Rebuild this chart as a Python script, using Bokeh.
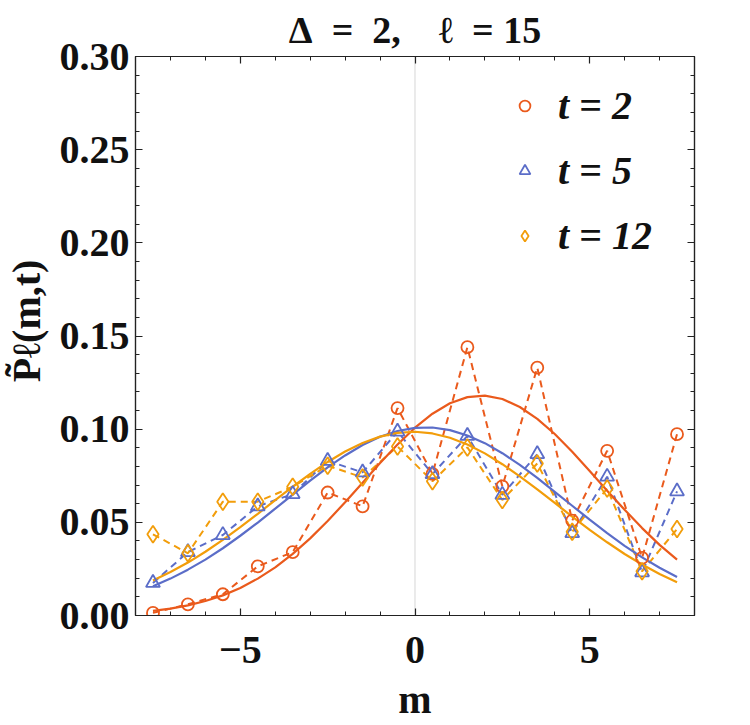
from math import pi
from bokeh.plotting import figure
from bokeh.models import Range1d, FixedTicker, LinearAxis, Span, Legend, LegendItem
from bokeh.embed import file_html
from bokeh.resources import INLINE

# ---- data ----
m = [-7.5, -6.5, -5.5, -4.5, -3.5, -2.5, -1.5, -0.5,
     0.5, 1.5, 2.5, 3.5, 4.5, 5.5, 6.5, 7.5]
p_t2 = [0.0014, 0.0060, 0.0114, 0.0264, 0.0340, 0.0660, 0.0586, 0.1113,
        0.0760, 0.1440, 0.0693, 0.1330, 0.0509, 0.0884, 0.0309, 0.0973]
p_t5 = [0.0175, 0.0340, 0.0432, 0.0586, 0.0652, 0.0830, 0.0768, 0.0987,
        0.0759, 0.0964, 0.0648, 0.0866, 0.0442, 0.0745, 0.0232, 0.0666]
p_t12 = [0.0436, 0.0334, 0.0611, 0.0611, 0.0691, 0.0804, 0.0741, 0.0907,
         0.0720, 0.0902, 0.0620, 0.0816, 0.0450, 0.0682, 0.0237, 0.0464]

m_fit = [-7.5, -7.0, -6.5, -6.0, -5.5, -5.0, -4.5, -4.0, -3.5, -3.0, -2.5,
         -2.0, -1.5, -1.0, -0.5, 0.0, 0.5, 1.0, 1.5, 2.0, 2.5, 3.0, 3.5,
         4.0, 4.5, 5.0, 5.5, 6.0, 6.5, 7.0, 7.5]
fit_t2 = [0.0025, 0.0037, 0.0054, 0.0078, 0.0108, 0.0148, 0.0198, 0.0258,
          0.0331, 0.0414, 0.0507, 0.0608, 0.0713, 0.0818, 0.0918, 0.1008,
          0.1083, 0.1139, 0.1172, 0.1180, 0.1162, 0.1119, 0.1055, 0.0974,
          0.0879, 0.0776, 0.0670, 0.0567, 0.0469, 0.0379, 0.0300]
fit_t5 = [0.0157, 0.0198, 0.0246, 0.0300, 0.0361, 0.0428, 0.0499, 0.0574,
          0.0649, 0.0724, 0.0795, 0.0859, 0.0915, 0.0959, 0.0990, 0.1007,
          0.1009, 0.0995, 0.0966, 0.0925, 0.0871, 0.0808, 0.0739, 0.0664,
          0.0589, 0.0514, 0.0442, 0.0374, 0.0312, 0.0256, 0.0207]
fit_t12 = [0.0188, 0.0233, 0.0284, 0.0342, 0.0406, 0.0474, 0.0546, 0.0619,
           0.0691, 0.0760, 0.0824, 0.0880, 0.0926, 0.0960, 0.0980, 0.0986,
           0.0977, 0.0954, 0.0918, 0.0870, 0.0812, 0.0747, 0.0677, 0.0604,
           0.0531, 0.0460, 0.0393, 0.0330, 0.0274, 0.0223, 0.0179]

labels = ["t = 2", "t = 5", "t = 12"]
x_major = [-5, 0, 5]
x_minor = [-8, -7, -6, -5, -4, -3, -2, -1, 0, 1, 2, 3, 4, 5, 6, 7, 8]
y_major = [0.0, 0.05, 0.10, 0.15, 0.20, 0.25, 0.30]
y_minor = [i / 100 for i in range(0, 31)]
x_tick_labels = {-5: "\u22125", 0: "0", 5: "5"}
y_tick_labels = {0.0: "0.00", 0.05: "0.05", 0.10: "0.10", 0.15: "0.15",
                 0.20: "0.20", 0.25: "0.25", 0.30: "0.30"}

colors = ["#EA5A1C", "#5B6DC8", "#F29D0A"]
markers = ["circle", "triangle", "diamond"]
msizes = [12, 14, 17]

FONT = "Liberation Serif"

p = figure(width=750, height=725, output_backend="svg", toolbar_location=None,
           x_range=Range1d(-8, 8), y_range=Range1d(0, 0.30),
           min_border_left=134, min_border_right=56, min_border_top=55,
           min_border_bottom=110, x_axis_location=None, y_axis_location=None)
p.grid.visible = False
p.outline_line_color = "#222222"
p.outline_line_width = 1.2
p.background_fill_color = "white"

p.title.text = ("\u0394\u00a0\u00a0=\u00a0\u00a02,\u00a0\u00a0\u00a0\u00a0"
                "\u2113\u00a0\u00a0=\u00a015")
p.title.align = "center"
p.title.text_font = FONT
p.title.text_font_size = "38px"
p.title.text_font_style = "bold"
p.title.text_color = "#111111"
p.title.standoff = 12


def make_axis(ticks, minor, overrides, show_labels):
    ax = LinearAxis()
    ax.ticker = FixedTicker(ticks=ticks, minor_ticks=minor)
    ax.axis_line_color = "#222222"
    ax.axis_line_width = 1.2
    ax.major_tick_in = 7
    ax.major_tick_out = 0
    ax.minor_tick_in = 4
    ax.minor_tick_out = 0
    ax.major_tick_line_color = "#222222"
    ax.minor_tick_line_color = "#222222"
    ax.major_tick_line_width = 1.2
    ax.minor_tick_line_width = 1
    if show_labels:
        ax.major_label_overrides = overrides
        ax.major_label_text_font = FONT
        ax.major_label_text_font_style = "bold"
        ax.major_label_text_font_size = "40px"
        ax.major_label_text_color = "#111111"
    else:
        ax.major_label_text_font_size = "0px"
        ax.major_label_text_color = None
        ax.major_label_standoff = 0
    return ax


xb = make_axis(x_major, x_minor, x_tick_labels, True)
xb.major_label_standoff = 21
xb.axis_label = "m"
xb.axis_label_text_font = FONT
xb.axis_label_text_font_style = "bold"
xb.axis_label_text_font_size = "40px"
xb.axis_label_text_color = "#111111"
xb.axis_label_standoff = 11
p.add_layout(xb, "below")
p.add_layout(make_axis(x_major, x_minor, {}, False), "above")

yl = make_axis(y_major, y_minor, y_tick_labels, True)
yl.major_label_standoff = 6
yl.axis_label = "\u00a0\u00a0\u00a0P\u0303\u2113(m,t)"
yl.axis_label_text_font = FONT
yl.axis_label_text_font_style = "bold"
yl.axis_label_text_font_size = "40px"
yl.axis_label_text_color = "#111111"
yl.axis_label_standoff = 8
p.add_layout(yl, "left")
p.add_layout(make_axis(y_major, y_minor, {}, False), "right")

p.add_layout(Span(location=0, dimension="height", line_color="#DDDDDD",
                  line_width=1.2, level="underlay"))

series = [p_t2, p_t5, p_t12]
fits = [fit_t2, fit_t5, fit_t12]
for vals, c in zip(series, colors):
    p.line(m, vals, line_color=c, line_width=2.0, line_dash="7 5")
for fv, c in zip(fits, colors):
    p.line(m_fit, fv, line_color=c, line_width=2.2)

items = []
for vals, c, mk, sz, lab in zip(series, colors, markers, msizes, labels):
    r = p.scatter(m, vals, marker=mk, size=sz, line_color=c,
                  fill_color=None, line_width=1.8)
    items.append(LegendItem(label=lab, renderers=[r]))

legend = Legend(items=items, location=(376, 347))
legend.label_text_font = FONT
legend.label_text_font_style = "bold italic"
legend.label_text_font_size = "40px"
legend.label_text_color = "#111111"
legend.glyph_width = 27
legend.glyph_height = 65
legend.label_height = 65
legend.label_standoff = 20
legend.spacing = 0
legend.padding = 0
legend.margin = 0
legend.border_line_color = None
legend.background_fill_alpha = 0
p.add_layout(legend)

open("out.html", "w").write(file_html(p, INLINE))
